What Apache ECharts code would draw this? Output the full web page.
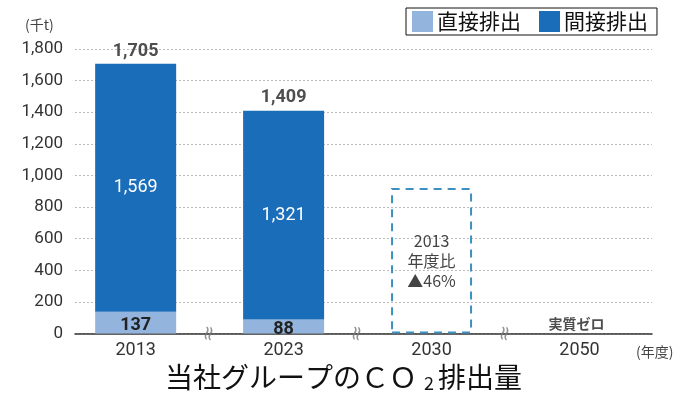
<!DOCTYPE html>
<html><head><meta charset="utf-8">
<script src="https://cdn.jsdelivr.net/npm/echarts@6/dist/echarts.min.js"></script>
<style>html,body{margin:0;padding:0;background:#fff}#c{width:687px;height:396px}</style>
</head><body><div id="c"></div>
<script>
const years = ['2013', '2023', '2030', '2050'];
const directEmission = [137, 88, null, null];      // 直接排出
const indirectEmission = [1569, 1321, null, null]; // 間接排出
const totals = [1705, 1409, null, null];
const target2030 = [null, null, 921, null];        // 2013年度比 ▲46%
const zeroLabel = [null, null, null, 0];           // 実質ゼロ
const yTicks = [0, 200, 400, 600, 800, 1000, 1200, 1400, 1600, 1800];
const breakPositions = [0.5, 1.5, 2.5];

const font = '"Noto Sans CJK JP", "Noto Sans", sans-serif';
const numFont = '"Roboto", "Noto Sans", sans-serif';
const fmt = v => v.toLocaleString('en-US');
// value first (y), x position second -> stacking runs on the y dimension
const toPts = arr => arr.map((v, i) => v == null ? null : [v, i]).filter(d => d);
const enc = { x: 1, y: 0 };

const chart = echarts.init(document.getElementById('c'));
chart.setOption({
  animation: false,
  textStyle: { fontFamily: font },
  title: {
    text: '当社グループのＣＯ{s|2}排出量',
    left: 'center', top: 357,
    textStyle: { fontSize: 28, fontWeight: 'normal', color: '#111', fontFamily: font,
      rich: { s: { fontSize: 18, verticalAlign: 'bottom', padding: [12, 4, 0, 7], color: '#111', fontFamily: font } } }
  },
  graphic: [{
    type: 'text', left: 25, top: 18,
    style: { text: '(千t)', fontSize: 14, fill: '#444', fontFamily: font }
  }],
  legend: {
    left: 406, top: 8, orient: 'horizontal',
    borderColor: '#111', borderWidth: 1, padding: [3, 9, 3, 6],
    itemWidth: 21, itemHeight: 21, itemGap: 18, icon: 'rect',
    textStyle: { fontSize: 21, color: '#111', fontFamily: font, padding: [0, 0, 0, -1] },
    data: ['直接排出', '間接排出']
  },
  grid: { left: 75, right: 35, top: 49, bottom: 62.5 },
  xAxis: {
    type: 'value', min: -0.41, max: 3.49, splitNumber: 4,
    name: '(年度)', nameLocation: 'end', nameGap: -16,
    nameTextStyle: { fontSize: 14, color: '#444', verticalAlign: 'top', align: 'left', padding: [11, 0, 0, 0], fontFamily: font },
    axisLine: { show: true, lineStyle: { color: '#333', width: 1.5 } },
    axisTick: { show: false },
    splitLine: { show: false },
    axisLabel: {
      show: true, margin: 8, fontSize: 18, color: '#333', fontFamily: numFont,
      showMinLabel: false, showMaxLabel: false,
      formatter: v => (Number.isInteger(v) && v >= 0 && v < years.length) ? years[v] : ''
    }
  },
  yAxis: {
    type: 'value', min: yTicks[0], max: yTicks[yTicks.length - 1], interval: 200,
    axisLine: { show: false }, axisTick: { show: false },
    axisLabel: { fontSize: 17, color: '#333', margin: 12, fontFamily: numFont, formatter: v => fmt(v) },
    splitLine: { show: true, lineStyle: { color: '#bbb', type: [2, 2], width: 1 } }
  },
  series: [
    {
      name: '直接排出', type: 'bar', stack: 'e', barWidth: 81, encode: enc,
      data: toPts(directEmission),
      itemStyle: { color: '#93b5dd' },
      label: { show: true, position: 'inside', fontSize: 18, fontWeight: 'bold', color: '#222', offset: [0, 3], fontFamily: numFont, formatter: p => fmt(p.value[0]) }
    },
    {
      name: '間接排出', type: 'bar', stack: 'e', barWidth: 81, encode: enc,
      data: toPts(indirectEmission),
      itemStyle: { color: '#1a6db8' },
      label: { show: true, position: 'inside', fontSize: 18, color: '#fff', fontFamily: numFont, formatter: p => fmt(p.value[0]) }
    },
    {
      name: 'target', type: 'bar', barWidth: 81, barGap: '-100%', encode: enc,
      data: toPts(target2030),
      itemStyle: { color: 'rgba(0,0,0,0)', borderColor: '#3d8fc2', borderWidth: 2, borderType: [8, 6] },
      label: { show: true, position: 'inside', fontSize: 16, color: '#444', lineHeight: 20,
        formatter: '2013\n年度比\n▲46%' }
    },
    {
      name: 'totals', type: 'scatter', symbolSize: 0, silent: true, encode: enc,
      data: toPts(totals),
      label: { show: true, position: 'top', distance: 4, fontSize: 18, fontWeight: 'bold', color: '#222', fontFamily: numFont, formatter: p => fmt(p.value[0]) }
    },
    {
      name: 'zero', type: 'scatter', symbolSize: 0, silent: true, encode: enc,
      data: toPts(zeroLabel),
      label: { show: true, position: 'top', distance: 3, fontSize: 14, fontWeight: 'bold', color: '#222', formatter: '実質ゼロ', offset: [-3, 0] }
    },
    {
      name: 'breaks', type: 'scatter', symbolSize: 0, silent: true, z: 10,
      data: breakPositions.map(x => [x, 0]),
      label: { show: true, position: 'inside', fontSize: 20, color: '#777', fontFamily: '"DejaVu Sans"', formatter: '≈', rotate: 80 }
    }
  ]
});
</script></body></html>
